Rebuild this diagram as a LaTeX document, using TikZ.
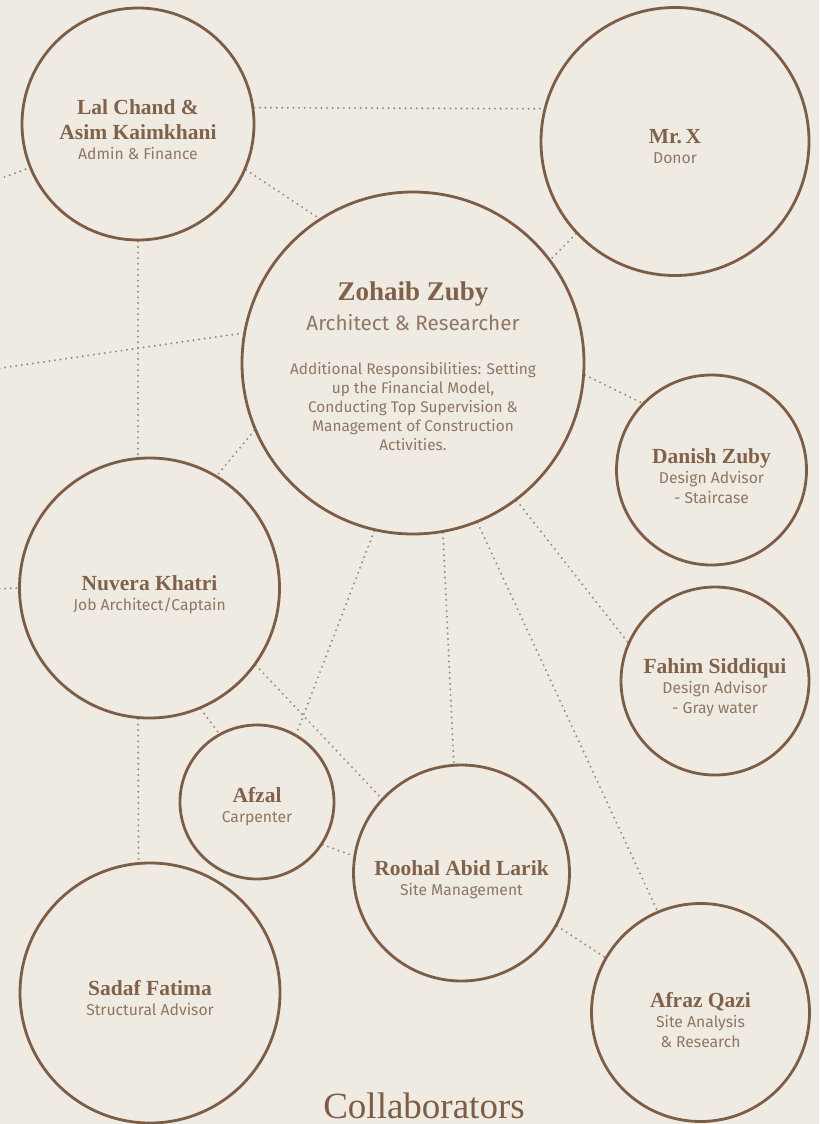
\documentclass[tikz,border=0pt]{standalone}
\usepackage{fontspec}
\setmainfont{Liberation Serif}
\newfontfamily\subfont{Fira Sans}
\definecolor{bgc}{HTML}{EFEAE2}
\definecolor{circc}{HTML}{7C5E47}
\definecolor{namec}{HTML}{80624B}
\definecolor{subc}{HTML}{8E7764}
\definecolor{dotc}{HTML}{8E8D88}
\pgfdeclarelayer{bg}
\pgfdeclarelayer{lines}
\pgfsetlayers{bg,lines,main}
\newcommand\pname[2][21.5]{{\rmfamily\bfseries\color{namec}\fontsize{#1}{#1}\selectfont #2}}
\begin{document}
\begin{tikzpicture}[x=1pt,y=-1pt,
  person/.style={circle, draw=circc, line width=2.8pt, fill=bgc, inner sep=0pt},
  ptext/.style={align=center, inner sep=0pt, text=subc, font=\subfont\fontsize{15.7}{20}\selectfont},
  link/.style={draw=dotc, line width=2.2pt, line cap=round, dash pattern=on 0pt off 5.6pt},
  title/.style={anchor=base, text=circc, font=\rmfamily\fontsize{37}{40}\selectfont}]
\begin{pgfonlayer}{bg}
  \fill[bgc] (0,0) rectangle (819,1124);
\end{pgfonlayer}
\useasboundingbox (0,0) rectangle (819,1124);

\node[person, minimum size=232pt] (lal) at (138,124) {};
\node[person, minimum size=268pt] (mrx) at (675,141.5) {};
\node[person, minimum size=342pt] (zoh) at (413,363) {};
\node[person, minimum size=190pt] (dan) at (711.5,470) {};
\node[person, minimum size=188pt] (fah) at (715,681) {};
\node[person, minimum size=260pt] (nuv) at (149.5,588) {};
\node[person, minimum size=154pt] (afz) at (257,802) {};
\node[person, minimum size=216pt] (roo) at (461.5,873) {};
\node[person, minimum size=260pt] (sad) at (150,993) {};
\node[person, minimum size=218pt] (afr) at (700.5,1012.5) {};

\node[ptext] (lal-t) at ([yshift=-6pt]lal.center)
  {\pname{Lal Chand \&}\\[5pt]\pname{Asim Kaimkhani}\\Admin \& Finance};
\node[ptext] (mrx-t) at ([yshift=-5pt]mrx.center)
  {\pname{Mr.\,X}\\Donor};
\node[ptext, font=\subfont\fontsize{15.4}{19}\selectfont] (zoh-t) at ([yshift=-3pt]zoh.center)
  {\pname[27]{Zohaib Zuby}\\[7pt]{\fontsize{20.7}{21}\selectfont Architect \& Researcher}\\[25pt]
   Additional Responsibilities: Setting\\ up the Financial Model,\\ Conducting Top Supervision \&\\
   Management of Construction\\ Activities.};
\node[ptext] (dan-t) at ([yshift=-6pt]dan.center)
  {\pname{Danish Zuby}\\Design Advisor\\ - Staircase};
\node[ptext] (fah-t) at ([yshift=-7pt]fah.center)
  {\pname{Fahim Siddiqui}\\Design Advisor\\ - Gray water};
\node[ptext] (nuv-t) at ([yshift=-7pt]nuv.center)
  {\pname{Nuvera Khatri}\\Job Architect/Captain};
\node[ptext] (afz-t) at ([yshift=-5pt]afz.center)
  {\pname{Afzal}\\Carpenter};
\node[ptext] (roo-t) at ([yshift=-7pt]roo.center)
  {\pname{Roohal Abid Larik}\\Site Management};
\node[ptext] (sad-t) at ([yshift=-5pt]sad.center)
  {\pname{Sadaf Fatima}\\Structural Advisor};
\node[ptext] (afr-t) at ([yshift=-8pt]afr.center)
  {\pname{Afraz Qazi}\\Site Analysis\\ \& Research};

\node[title] (ttl) at (424,1118) {Collaborators};

\coordinate (offA) at (-6,181);
\coordinate (offB) at (-6,369);
\coordinate (offC) at (-6,589);

\begin{pgfonlayer}{lines}
  \draw[link] (lal.8) -- (mrx.166);
  \draw[link] (offA) -- (lal.202);
  \draw[link] (lal.-23) -- (zoh.123);
  \draw[link] (lal.-90) -- (nuv.95);
  \draw[link] (offB) -- (zoh.170.6);
  \draw[link] (zoh.203.6) -- (nuv.59.4);
  \draw[link] (mrx.223) -- (zoh.37);
  \draw[link] (zoh.-4.7) -- (dan.136.6);
  \draw[link] (zoh.-53.5) -- (fah.156.4);
  \draw[link] (zoh.-68.5) -- (afr.113.6);
  \draw[link] (zoh.-80.4) -- (roo.94.8);
  \draw[link] (zoh.257.5) -- (afz.60.3);
  \draw[link] (nuv.-36.5) -- (roo.137);
  \draw[link] (nuv.-67.4) -- (afz.119.7);
  \draw[link] (nuv.-95) -- (sad.95);
  \draw[link] (offC) -- (nuv.180);
  \draw[link] (afz.-33.5) -- (roo.171.6);
  \draw[link] (roo.-29.1) -- (afr.150);
\end{pgfonlayer}
\end{tikzpicture}
\end{document}
